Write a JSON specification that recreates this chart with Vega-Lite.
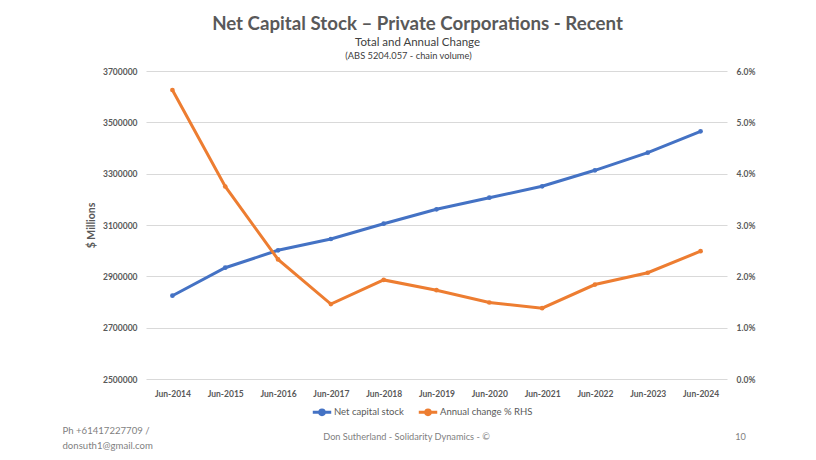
{
  "$schema": "https://vega.github.io/schema/vega-lite/v6.json",
  "width": 581,
  "height": 308,
  "autosize": {"type": "none"},
  "padding": {"left": 146, "top": 71, "right": 89, "bottom": 81},
  "background": "white",
  "config": {
    "view": {"stroke": null},
    "font": "Lato",
    "axis": {"labelFont": "Lato", "titleFont": "Lato"}
  },
  "title": {
    "text": "Net Capital Stock – Private Corporations - Recent",
    "subtitle": "Total and Annual Change",
    "anchor": "middle",
    "frame": "group",
    "font": "Lato",
    "fontSize": 18.7,
    "fontWeight": "bold",
    "color": "#595959",
    "subtitleFont": "Lato",
    "subtitleFontSize": 11.5,
    "subtitleColor": "#404040",
    "subtitlePadding": 3,
    "dx": -19,
    "offset": 3
  },
  "data": {
    "values": [
      {"period": "Jun-2014", "stock": 2824500, "change": 0.0563},
      {"period": "Jun-2015", "stock": 2933600, "change": 0.0375},
      {"period": "Jun-2016", "stock": 3001400, "change": 0.0233},
      {"period": "Jun-2017", "stock": 3045500, "change": 0.0146},
      {"period": "Jun-2018", "stock": 3105000, "change": 0.0193},
      {"period": "Jun-2019", "stock": 3161200, "change": 0.0173},
      {"period": "Jun-2020", "stock": 3206400, "change": 0.0149},
      {"period": "Jun-2021", "stock": 3250800, "change": 0.0138},
      {"period": "Jun-2022", "stock": 3313100, "change": 0.0184},
      {"period": "Jun-2023", "stock": 3381700, "change": 0.0207},
      {"period": "Jun-2024", "stock": 3465100, "change": 0.0249}
    ]
  },
  "layer": [
    {
      "mark": {"type": "line", "strokeWidth": 3},
      "encoding": {
        "x": {
          "field": "period", "type": "ordinal", "sort": null,
          "scale": {"type": "point", "padding": 0.5},
          "axis": {
            "orient": "bottom",
            "labelAngle": 0, "labelFontSize": 8.5, "labelFontWeight": "bold", "labelColor": "#595959",
            "labelPadding": 10, "ticks": false, "domain": false, "grid": false,
            "title": ["Ph +61417227709 /", "donsuth1@gmail.com"],
            "titleX": -84, "titleY": 46, "titleAlign": "left", "titleBaseline": "top", "titleAngle": 0,
            "titleFontSize": 9.6, "titleFontWeight": "normal", "titleColor": "#7f7f7f", "titleLineHeight": 15
          }
        },
        "y": {
          "field": "stock", "type": "quantitative",
          "scale": {"domain": [2500000, 3700000], "nice": false, "zero": false},
          "axis": {
            "values": [2500000, 2700000, 2900000, 3100000, 3300000, 3500000, 3700000],
            "format": "d", "labelFontSize": 8.5, "labelFontWeight": "bold", "labelColor": "#595959",
            "labelPadding": 9, "ticks": false, "domain": false,
            "grid": true, "gridColor": "#d9d9d9", "gridWidth": 1,
            "title": "$ Millions", "titleFontSize": 10.5, "titleFontWeight": "bold", "titleColor": "#595959",
            "titlePadding": 6
          }
        },
        "color": {
          "datum": "Net capital stock", "type": "nominal",
          "scale": {"domain": ["Net capital stock", "Annual change % RHS"], "range": ["#4472C4", "#ED7D31"]},
          "legend": {
            "orient": "none", "legendX": 165, "legendY": 330, "direction": "horizontal",
            "title": null, "padding": 0,
            "symbolType": "M-1,0H1M0.25,0A0.25,0.25,0,1,1,-0.25,0A0.25,0.25,0,1,1,0.25,0",
            "symbolSize": 340, "symbolStrokeWidth": 3,
            "labelFont": "Lato", "labelFontSize": 9.5, "labelColor": "#595959", "labelOffset": 1,
            "columnPadding": 8
          }
        }
      }
    },
    {
      "mark": {"type": "line", "strokeWidth": 3, "point": {"filled": true, "size": 22}},
      "encoding": {
        "x": {
          "field": "period", "type": "ordinal", "sort": null,
          "scale": {"type": "point", "padding": 0.5},
          "axis": {
            "orient": "bottom",
            "labels": false, "ticks": false, "domain": false, "grid": false,
            "title": "Don Sutherland - Solidarity Dynamics - ©",
            "titleX": 260, "titleY": 57, "titleAlign": "center", "titleBaseline": "middle", "titleAngle": 0,
            "titleFontSize": 9.2, "titleFontWeight": "normal", "titleColor": "#7f7f7f"
          }
        },
        "y": {
          "field": "change", "type": "quantitative",
          "scale": {"domain": [0, 0.06], "nice": false},
          "axis": {
            "orient": "right",
            "values": [0, 0.01, 0.02, 0.03, 0.04, 0.05, 0.06],
            "format": ".1%", "labelFontSize": 8.5, "labelFontWeight": "bold", "labelColor": "#595959",
            "labelPadding": 9, "ticks": false, "domain": false, "grid": false,
            "title": "(ABS 5204.057 - chain volume)",
            "titleX": -319, "titleY": -16, "titleAlign": "center", "titleBaseline": "middle", "titleAngle": 0,
            "titleFontSize": 9.3, "titleFontWeight": "normal", "titleColor": "#404040"
          }
        },
        "color": {"datum": "Annual change % RHS", "type": "nominal"}
      }
    },
    {
      "mark": {"type": "point", "filled": true, "size": 22, "opacity": 1, "color": "#4472C4"},
      "encoding": {
        "x": {
          "field": "period", "type": "ordinal", "sort": null,
          "scale": {"type": "point", "padding": 0.5},
          "axis": {
            "orient": "bottom",
            "labels": false, "ticks": false, "domain": false, "grid": false,
            "title": "10",
            "titleX": 594, "titleY": 57, "titleAlign": "center", "titleBaseline": "middle", "titleAngle": 0,
            "titleFontSize": 9.2, "titleFontWeight": "normal", "titleColor": "#7f7f7f"
          }
        },
        "y": {
          "field": "stock", "type": "quantitative",
          "scale": {"domain": [2500000, 3700000], "nice": false, "zero": false},
          "axis": null
        }
      }
    }
  ],
  "resolve": {"scale": {"y": "independent"}, "axis": {"x": "independent", "y": "independent"}}
}
